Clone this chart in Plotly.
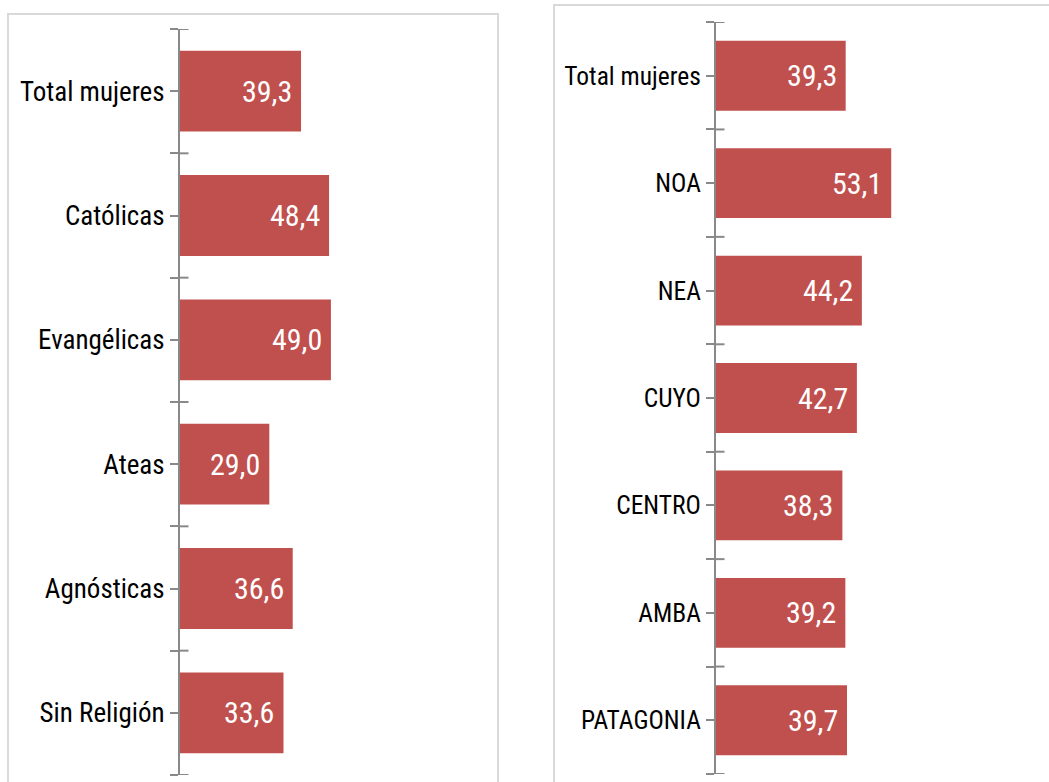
import plotly.graph_objects as go

# ---- data ----
religion_labels = ["Total mujeres", "Católicas", "Evangélicas", "Ateas", "Agnósticas", "Sin Religión"]
religion_values = [39.3, 48.4, 49.0, 29.0, 36.6, 33.6]

region_labels = ["Total mujeres", "NOA", "NEA", "CUYO", "CENTRO", "AMBA", "PATAGONIA"]
region_values = [39.3, 53.1, 44.2, 42.7, 38.3, 39.2, 39.7]

W, H = 1049, 782
FONT = "Roboto Condensed, Liberation Sans Narrow, Arial Narrow, DejaVu Sans Condensed, sans-serif"
BAR = "#C0504D"
AXC = "#898989"


def fmt(v):
    return f"{v:.1f}".replace(".", ",")


fig = go.Figure()

panels = [
    dict(labels=religion_labels, values=religion_values, xa="x", ya="y",
         xdom=[180 / W, 488 / W], ydom=[(H - 775) / H, (H - 29) / H],
         box=[8 / W, 1.2, 498 / W, (H - 14) / H], lsize=27),
    dict(labels=region_labels, values=region_values, xa="x2", ya="y2",
         xdom=[716 / W, 1046 / W], ydom=[(H - 774) / H, (H - 22) / H],
         box=[554 / W, 1.2, 1.2, (H - 5) / H], lsize=25.5),
]

shapes = []
annotations = []
for k, p in enumerate(panels):
    n = len(p["labels"])
    ypos = list(range(n))
    bounds = [j - 0.5 for j in range(n + 1)]
    fig.add_trace(go.Bar(
        x=p["values"], y=ypos, orientation="h", width=0.65,
        marker=dict(color=BAR, line=dict(width=0)),
        xaxis=p["xa"], yaxis=p["ya"], showlegend=False, hoverinfo="skip",
    ))
    for i, v in enumerate(p["values"]):
        annotations.append(dict(
            x=v, y=i, xref=p["xa"], yref=p["ya"], text=fmt(v), showarrow=False,
            xanchor="right", yanchor="middle", xshift=-7,
            font=dict(family=FONT, size=30, color="white"),
        ))
    # right half of the boundary cross ticks
    for b in bounds:
        shapes.append(dict(
            type="line", xref=p["xa"], yref=p["ya"], xsizemode="pixel", xanchor=0,
            x0=0, x1=8.5, y0=b, y1=b, line=dict(color=AXC, width=2),
        ))
    # panel border
    x0, y0, x1, y1 = p["box"]
    shapes.append(dict(type="rect", xref="paper", yref="paper",
                       x0=x0, x1=x1, y0=-0.2, y1=y1,
                       line=dict(color="#D9D9D9", width=2), layer="below"))

    axis_suffix = "" if k == 0 else "2"
    fig.update_layout(**{
        "xaxis" + axis_suffix: dict(domain=p["xdom"], range=[0, 100], visible=False,
                                    anchor=p["ya"], fixedrange=True),
        "yaxis" + axis_suffix: dict(domain=p["ydom"], range=[n - 0.5, -0.5],
                                    anchor=p["xa"], tickmode="array", tickvals=ypos,
                                    ticktext=p["labels"], ticks="outside", ticklen=8,
                                    tickwidth=2, tickcolor=AXC, showline=True,
                                    linecolor=AXC, linewidth=2, showgrid=False,
                                    zeroline=False,
                                    minor=dict(tickmode="array", tickvals=bounds,
                                               ticks="outside", ticklen=8.5,
                                               tickwidth=2, tickcolor=AXC,
                                               showgrid=False),
                                    tickfont=dict(family=FONT, size=p["lsize"], color="black"),
                                    fixedrange=True),
    })

fig.update_layout(
    width=W, height=H, margin=dict(l=0, r=0, t=0, b=0),
    paper_bgcolor="white", plot_bgcolor="rgba(0,0,0,0)",
    shapes=shapes, annotations=annotations,
)

fig.write_html("out.html", config={"displayModeBar": False},
               post_script="document.body.style.margin='0';document.body.style.overflow='hidden';")
